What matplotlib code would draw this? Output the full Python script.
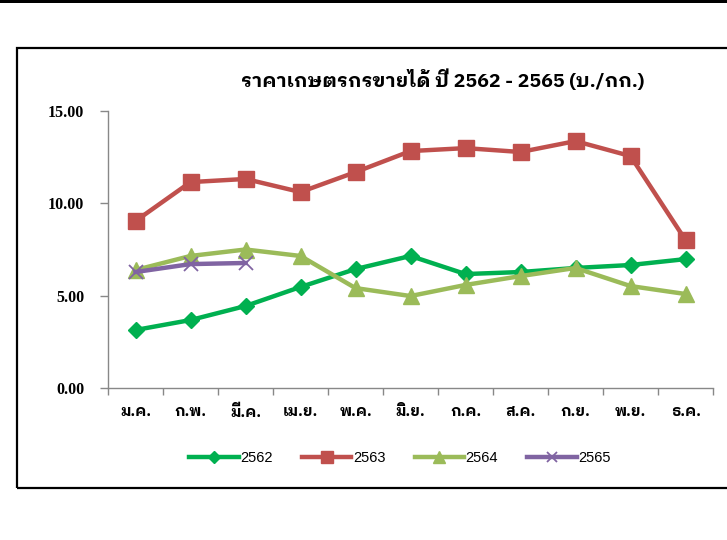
import matplotlib
matplotlib.use("Agg")
import matplotlib.pyplot as plt
from matplotlib import font_manager
from matplotlib.ft2font import FT2Font
from matplotlib.patches import Rectangle

# ---- data ----
months = ["ม.ค.", "ก.พ.", "มี.ค.", "เม.ย.", "พ.ค.", "มิ.ย.", "ก.ค.", "ส.ค.", "ก.ย.", "พ.ย.", "ธ.ค."]
y2562 = [3.14, 3.68, 4.44, 5.47, 6.44, 7.15, 6.17, 6.28, 6.50, 6.66, 6.98]
y2563 = [9.04, 11.15, 11.32, 10.61, 11.69, 12.83, 12.99, 12.78, 13.37, 12.56, 8.01]
y2564 = [6.39, 7.15, 7.50, 7.15, 5.41, 4.98, 5.58, 6.06, 6.50, 5.52, 5.09]
y2565 = [6.28, 6.71, 6.77]
series_names = ["2562", "2563", "2564", "2565"]
yticks = [0, 5, 10, 15]
title = "ราคาเกษตรกรขายได้ ปี 2562 - 2565 (บ./กก.)"

# ---- find fonts with Thai glyphs (prefer sans with bold weight) ----
info = {}
for fe in font_manager.fontManager.ttflist:
    try:
        cm = FT2Font(fe.fname).get_charmap()
    except Exception:
        continue
    if 0x0E01 in cm and 0x0E32 in cm:
        w = fe.weight if isinstance(fe.weight, int) else (700 if "bold" in str(fe.weight) else 400)
        d = info.setdefault(fe.name, {"bold": False})
        if w >= 600:
            d["bold"] = True
cands = []
for name, d in info.items():
    n = name.lower()
    score = 0
    if "thai" in n:
        score += 10
    if "mono" in n or "code" in n:
        score -= 20
    if "sans" in n:
        score += 3
    if d["bold"]:
        score += 5
    cands.append((score, name))
cands.sort(reverse=True)
thai_family = cands[0][1] if cands else None
fams = ([thai_family] if thai_family else []) + ["DejaVu Sans"]

fig = plt.figure(figsize=(7.27, 5.40), dpi=100)
W, H = 727, 540

fig.patches.append(Rectangle((0, 1 - 3 / H), 1, 3 / H, transform=fig.transFigure,
                             facecolor="black", edgecolor="none"))
fig.patches.append(Rectangle((17 / W, 1 - 488 / H), 1.0, (488 - 48) / H, transform=fig.transFigure,
                             facecolor="none", edgecolor="black", lw=1.6))

ax = fig.add_axes([108 / W, 1 - 388 / H, (713 - 108) / W, (388 - 111) / H])
x = list(range(len(months)))

lw = 3.2
ax.plot(x, y2562, color="#00B050", lw=lw, marker="D", ms=8.5, label=series_names[0], zorder=3)
ax.plot(x, y2563, color="#C0504D", lw=lw, marker="s", ms=12, label=series_names[1], zorder=3)
ax.plot(x, y2564, color="#9BBB59", lw=lw, marker="^", ms=12, label=series_names[2], zorder=3)
ax.plot(x[:len(y2565)], y2565, color="#8064A2", lw=lw, marker="x", ms=10, mew=1.3,
        label=series_names[3], zorder=4)

ax.set_xlim(-0.5, len(months) - 0.5)
ax.set_ylim(0, 15)
ax.set_yticks(yticks)
ax.set_yticklabels([f"{v:.2f}" for v in yticks], family="Liberation Serif",
                   fontweight="bold", fontsize=11.5)
ax.set_xticks(x)
ax.set_xticklabels(months, family=fams, fontweight="bold", fontsize=11)
ax.set_xticks([i - 0.5 for i in range(len(months) + 1)], minor=True)
ax.tick_params(axis="x", which="major", length=0, pad=12)
ax.tick_params(axis="x", which="minor", length=5, color="#888888", width=1)
ax.tick_params(axis="y", length=6, color="#888888", width=1, pad=11)

for s in ["top", "right"]:
    ax.spines[s].set_visible(False)
for s in ["left", "bottom"]:
    ax.spines[s].set_color("#888888")
    ax.spines[s].set_linewidth(1)

fig.text(443 / W, 1 - 80 / H, title, family=fams, fontsize=14, fontweight="bold",
         ha="center", va="center")

leg = fig.legend(loc="center", bbox_to_anchor=(400 / W, 1 - 458 / H), ncol=4,
                 frameon=False, handlelength=3.4, columnspacing=2.0, handletextpad=0.1,
                 prop={"family": ["Liberation Sans", "DejaVu Sans"], "size": 10.5},
                 markerscale=0.75)

fig.savefig("out.png", dpi=100)
